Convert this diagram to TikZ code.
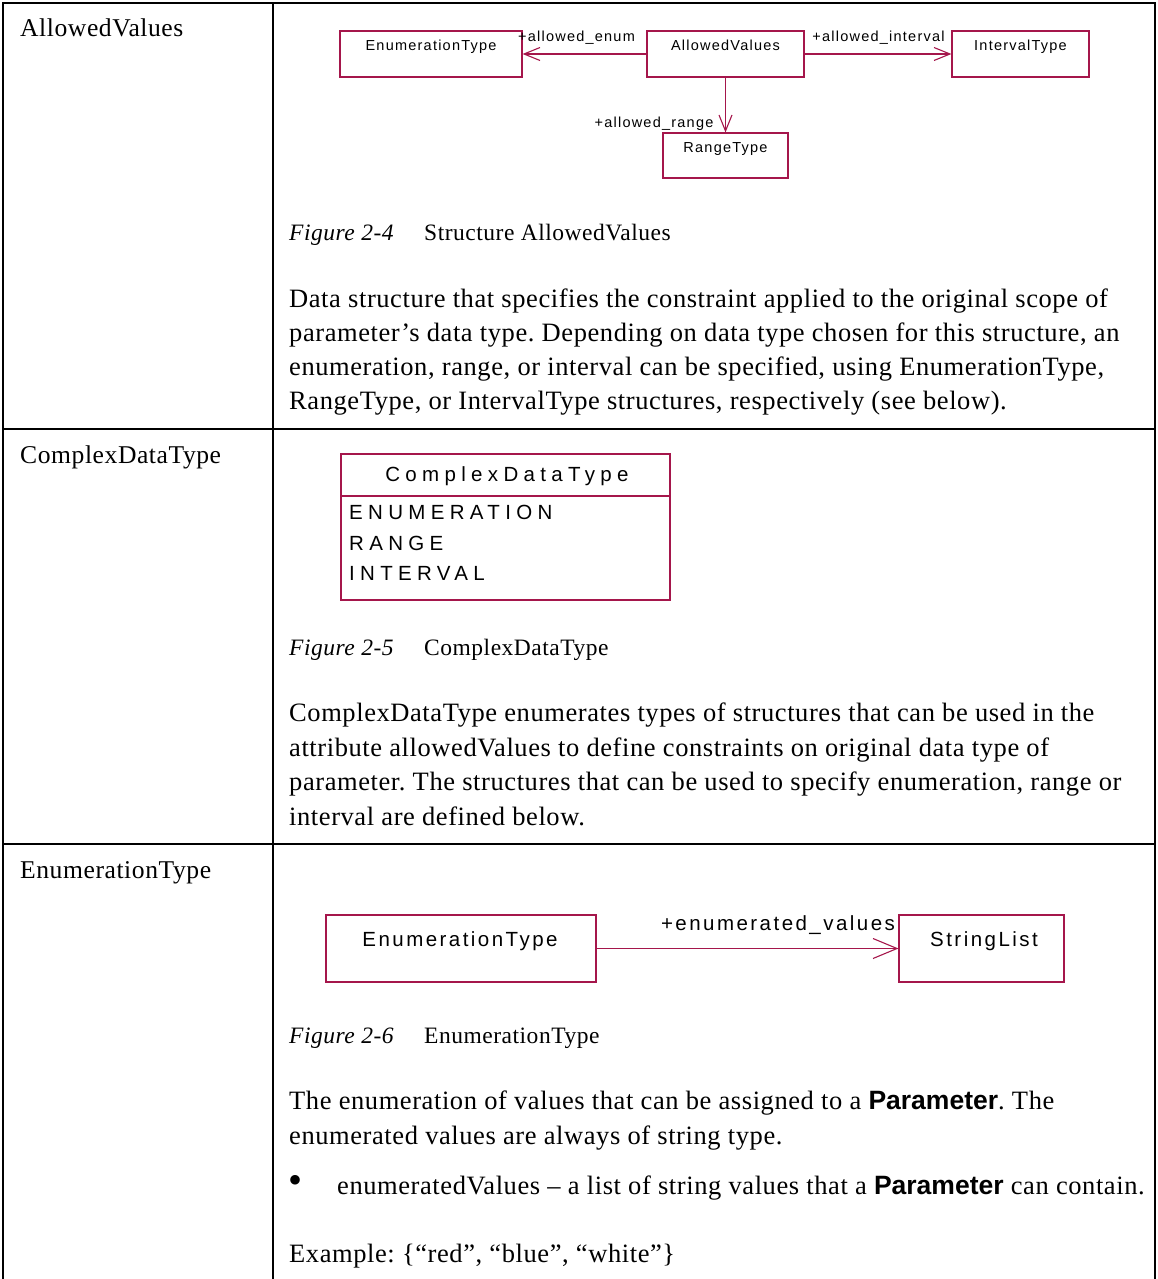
\documentclass[tikz,border=0pt]{standalone}
\usepackage{fontspec}
\setmainfont[LetterSpace=2.2]{Liberation Serif}
\newfontfamily\boldsans{Liberation Sans}
\newfontfamily\umlA[LetterSpace=8.5]{Liberation Sans}
\newfontfamily\umlB[LetterSpace=26]{Liberation Sans}
\newfontfamily\umlC[LetterSpace=12]{Liberation Sans}
\usetikzlibrary{arrows.meta}

\definecolor{umlred}{RGB}{165,22,75}
\newcommand\bodyfs{\fontsize{26.5}{32}\selectfont\frenchspacing}
\newcommand\labelfs{\fontsize{25.6}{31}\selectfont}
\newcommand\capfs{\fontsize{23.5}{28}\selectfont}
\newcommand\prm{{\boldsans\bfseries Parameter}}

\tikzset{
  grid line/.style={line width=1.6pt, black},
  body/.style={anchor=base west, inner sep=0pt, font=\bodyfs},
  rowlabel/.style={anchor=base west, inner sep=0pt, font=\labelfs},
  figcap/.style={anchor=base west, inner sep=0pt, font=\capfs\itshape},
  captext/.style={anchor=base west, inner sep=0pt, font=\capfs},
  umlbox/.style={draw=umlred, line width=1.1pt, inner sep=0pt},
  smalltxt/.style={anchor=base, inner sep=0pt, font=\umlA\fontsize{14.5}{17}\selectfont},
  enumtxt/.style={anchor=base west, inner sep=0pt, font=\umlB\fontsize{20.5}{24}\selectfont},
  bigtxt/.style={anchor=base, inner sep=0pt, font=\umlC\fontsize{20.5}{24}\selectfont},
  assoc/.style={draw=umlred, line width=1.1pt,
    -{Straight Barb[length=16pt,width=13pt]}},
  assocbig/.style={draw=umlred, line width=1.1pt,
    -{Straight Barb[length=24pt,width=20pt]}},
}

\begin{document}
\begin{tikzpicture}[x=1pt, y=-1pt]
\useasboundingbox (0,0) rectangle (1158,1279);

% table frame
\coordinate (tl) at (3,3);
\coordinate (tr) at (1155,3);
\draw[grid line] (3,1279) -- (tl) -- (tr) -- (1155,1279);
\draw[grid line] (273,3) -- (273,1279);
\draw[grid line] (3,429) -- (1155,429);
\draw[grid line] (3,844) -- (1155,844);

% left column
\node[rowlabel] (lab1) at (20,37) {AllowedValues};
\node[rowlabel] (lab2) at (20,463) {ComplexDataType};
\node[rowlabel] (lab3) at (20,878) {EnumerationType};

% ---- AllowedValues class diagram
\node[umlbox, minimum width=182pt, minimum height=46pt] (enum) at (431,54) {};
\node[umlbox, minimum width=157pt, minimum height=46pt] (allowed) at (725.5,54) {};
\node[umlbox, minimum width=137pt, minimum height=46pt] (interval) at (1020.5,54) {};
\node[umlbox, minimum width=125pt, minimum height=45pt] (range) at (725.5,155.5) {};
\node[smalltxt] (enum-t) at (431,51) {EnumerationType};
\node[smalltxt] (allowed-t) at (725.5,51) {AllowedValues};
\node[smalltxt] (interval-t) at (1020.5,51) {IntervalType};
\node[smalltxt] (range-t) at (725.5,153) {RangeType};
\draw[assoc] (allowed) -- (enum);
\draw[assoc] (allowed) -- (interval);
\draw[assoc] (allowed) -- (range);
\node[smalltxt] (l-enum) at (576.5,42) {+allowed\_enum};
\node[smalltxt] (l-interval) at (878.5,42) {+allowed\_interval};
\node[smalltxt] (l-range) at (654,128) {+allowed\_range};

\node[figcap] (cap1) at (289,240) {Figure 2-4};
\node[captext] (cap1t) at (424,240) {Structure AllowedValues};

\node[body] (p1a) at (289,307) {Data structure that specifies the constraint applied to the original scope of};
\node[body] (p1b) at (289,341) {parameter’s data type. Depending on data type chosen for this structure, an};
\node[body] (p1c) at (289,375) {enumeration, range, or interval can be specified, using EnumerationType,};
\node[body] (p1d) at (289,409) {RangeType, or IntervalType structures, respectively (see below).};

% ---- ComplexDataType enumeration
\node[umlbox, minimum width=329pt, minimum height=146pt] (cdt) at (505.5,527) {};
\coordinate (cdtsplit) at (0,496);
\draw[draw=umlred, line width=1.1pt] (cdt.west |- cdtsplit) -- (cdt.east |- cdtsplit);
\node[enumtxt, anchor=base] (cdt-t) at (507,481) {ComplexDataType};
\node[enumtxt] (lit1) at (349,519) {ENUMERATION};
\node[enumtxt] (lit2) at (349,550) {RANGE};
\node[enumtxt] (lit3) at (349,580) {INTERVAL};

\node[figcap] (cap2) at (289,655) {Figure 2-5};
\node[captext] (cap2t) at (424,655) {ComplexDataType};

\node[body] (p2a) at (289,721) {ComplexDataType enumerates types of structures that can be used in the};
\node[body] (p2b) at (289,756) {attribute allowedValues to define constraints on original data type of};
\node[body] (p2c) at (289,790) {parameter. The structures that can be used to specify enumeration, range or};
\node[body] (p2d) at (289,825) {interval are defined below.};

% ---- EnumerationType class diagram
\node[umlbox, minimum width=270pt, minimum height=67pt] (etype) at (461,948.5) {};
\node[umlbox, minimum width=165pt, minimum height=67pt] (slist) at (981.5,948.5) {};
\node[bigtxt] (etype-t) at (460,946) {EnumerationType};
\node[bigtxt] (slist-t) at (984,946) {StringList};
\draw[assocbig] (etype) -- (slist);
\node[bigtxt] (l-values) at (778,930) {+enumerated\_values};

\node[figcap] (cap3) at (289,1043) {Figure 2-6};
\node[captext] (cap3t) at (424,1043) {EnumerationType};

\node[body] (p3a) at (289,1109) {The enumeration of values that can be assigned to a \prm. The};
\node[body] (p3b) at (289,1144) {enumerated values are always of string type.};
\node[body, font=\fontsize{40}{46}\selectfont] (bul) at (288,1193) {•};
\node[body] (p3c) at (337,1194) {enumeratedValues – a list of string values that a \prm{} can contain.};
\node[body] (p3d) at (289,1262) {Example: \{“red”, “blue”, “white”\}};
\end{tikzpicture}
\end{document}
